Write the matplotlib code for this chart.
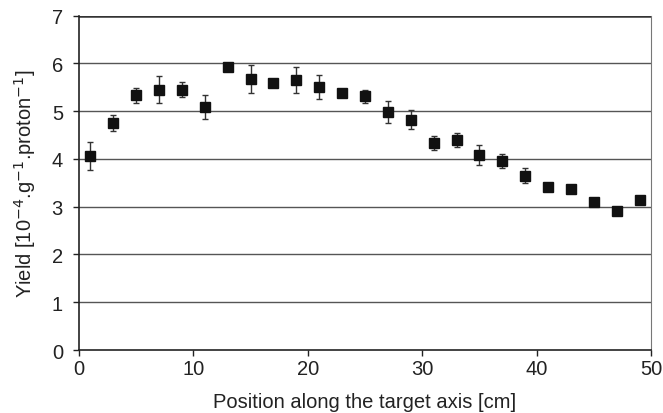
import numpy as np
import matplotlib
matplotlib.use('Agg')
from matplotlib import pyplot as plt

plt.rcParams['font.family'] = ['Liberation Sans', 'DejaVu Sans']

# position along target [cm], yield [1e-4 /g/proton], error
position = [1, 3, 5, 7, 9, 11, 13, 15, 17, 19, 21, 23, 25,
            27, 29, 31, 33, 35, 37, 39, 41, 43, 45, 47, 49]
yield_vals = [4.06, 4.75, 5.33, 5.45, 5.45, 5.09, 5.93, 5.67, 5.59, 5.65, 5.50, 5.37, 5.31,
              4.99, 4.82, 4.33, 4.39, 4.09, 3.96, 3.65, 3.42, 3.37, 3.10, 2.91, 3.14]
yield_err = [0.29, 0.16, 0.16, 0.28, 0.15, 0.25, 0.07, 0.30, 0.0, 0.28, 0.25, 0.0, 0.13,
             0.23, 0.20, 0.15, 0.15, 0.21, 0.15, 0.15, 0.0, 0.0, 0.05, 0.05, 0.0]

fig = plt.figure(figsize=(6.63, 4.14), dpi=100)
ax = fig.add_axes([0.119, 0.152, 0.863, 0.808])

for y in range(1, 8):
    ax.axhline(y, color='#555555' if y < 7 else '#333333', linewidth=1.0 if y < 7 else 1.8, zorder=1)

ax.errorbar(position, yield_vals, yerr=yield_err, fmt='s', color='#111111', ecolor='#333333',
            elinewidth=1.0, capsize=2.5, capthick=1.0, markersize=7.5, zorder=3)

ax.set_xlim(0, 50)
ax.set_ylim(0, 7)
ax.set_xticks(np.arange(0, 51, 10))
ax.set_yticks(np.arange(0, 8, 1))
ax.tick_params(axis='both', direction='out', length=4.5, width=1, labelsize=14.5, colors='#222222')
ax.tick_params(axis='x', pad=2)
ax.tick_params(axis='y', pad=7)

for side in ['left', 'bottom']:
    ax.spines[side].set_color('#222222')
    ax.spines[side].set_linewidth(1.2)
ax.spines['right'].set_color('#777777')
ax.spines['top'].set_visible(False)

ax.set_xlabel('Position along the target axis [cm]', fontsize=14.5, color='#222222', labelpad=10)
ax.set_ylabel('Yield [10$^{-4}$.g$^{-1}$.proton$^{-1}$]', fontsize=14.5, color='#222222', labelpad=10)

plt.savefig('out.png', dpi=100)
